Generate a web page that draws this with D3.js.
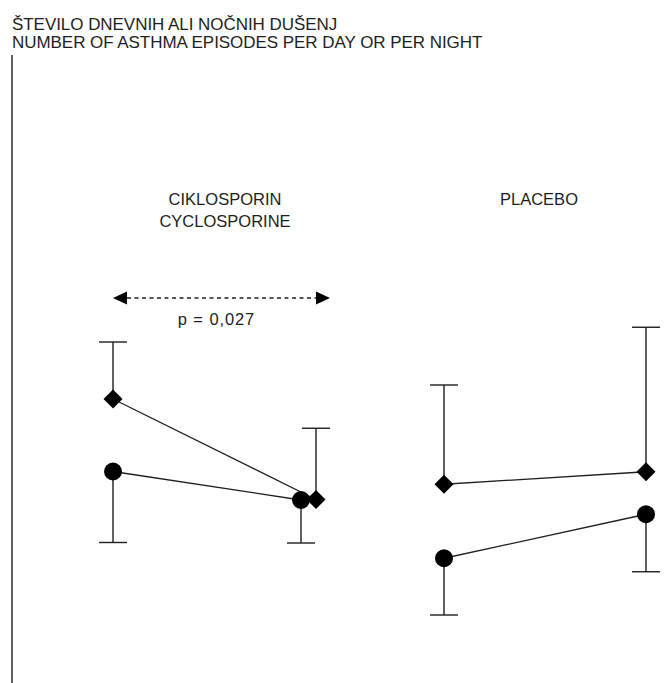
<!DOCTYPE html>
<html>
<head>
<meta charset="utf-8">
<script src="https://cdn.jsdelivr.net/npm/d3@7"></script>
<style>
  html, body { margin: 0; padding: 0; background: #fff; }
  svg { display: block; font-family: "Liberation Sans", Arial, Helvetica, sans-serif; }
</style>
</head>
<body>
<svg id="chart" width="665" height="683"></svg>
<script>
// Mean number of asthma episodes per day or night, before and after treatment
const groups = ["CIKLOSPORIN", "PLACEBO"];
const groupLabels = [["CIKLOSPORIN", "CYCLOSPORINE"], ["PLACEBO"]];
const times = ["before", "after"];

// diamond series: mean and upper error limit
const diamondMean = { CIKLOSPORIN: [1.124, 0.722], PLACEBO: [0.783, 0.833] };
const diamondUpper = { CIKLOSPORIN: [1.352, 1.007], PLACEBO: [1.180, 1.411] };
// circle series: mean and lower error limit
const circleMean = { CIKLOSPORIN: [0.834, 0.720], PLACEBO: [0.487, 0.663] };
const circleLower = { CIKLOSPORIN: [0.550, 0.548], PLACEBO: [0.260, 0.433] };

const titleLines = ["ŠTEVILO DNEVNIH ALI NOČNIH DUŠENJ", "NUMBER OF ASTHMA EPISODES PER DAY OR PER NIGHT"];
const pLabel = "p = 0,027";

const ink = "#1e1e1e";
const svg = d3.select("#chart");

// value axis (unlabelled)
const y = d3.scaleLinear().domain([0, 2.5]).range([680, 55]);

// horizontal layout of each treatment group
const groupRange = { CIKLOSPORIN: [113, 301], PLACEBO: [444, 646] };
const xIn = g => d3.scalePoint().domain(times).range(groupRange[g]);
const labelCenter = { CIKLOSPORIN: 225, PLACEBO: 539 };
// the after-treatment diamond in the ciklosporin group is nudged right so it does not hide the circle
const diamondNudge = { CIKLOSPORIN: [0, 15], PLACEBO: [0, 0] };

// title
svg.append("g").selectAll("text").data(titleLines).join("text")
  .attr("x", 12).attr("y", (d, i) => 30 + i * 17.7)
  .attr("font-size", 17).attr("fill", ink)
  .attr("letter-spacing", -0.05)
  .text(d => d);

// y axis line without ticks
const axis = d3.axisLeft(y).ticks(0).tickSize(0).tickSizeOuter(0);
const axG = svg.append("g").attr("transform", "translate(12,0)").call(axis);
axG.select(".domain").attr("stroke", ink).attr("stroke-width", 1.4).attr("d", `M0,${y(2.5)}V683`);

const lineGen = d3.line();
const capHalf = 14;

groups.forEach((g, gi) => {
  const x = xIn(g);
  const G = svg.append("g");

  // group header
  G.selectAll("text.hdr").data(groupLabels[gi]).join("text")
    .attr("class", "hdr")
    .attr("x", labelCenter[g]).attr("y", (d, i) => 205 + i * 21.5)
    .attr("text-anchor", "middle").attr("font-size", 16.5).attr("fill", ink)
    .text(d => d);

  const dPts = times.map((t, i) => [x(t) + diamondNudge[g][i], y(diamondMean[g][i])]);
  const cPts = times.map((t, i) => [x(t), y(circleMean[g][i])]);

  // error bars: diamonds upward, circles downward
  times.forEach((t, i) => {
    const dx = dPts[i][0];
    const yu = y(diamondUpper[g][i]);
    G.append("line").attr("x1", dx).attr("x2", dx).attr("y1", dPts[i][1]).attr("y2", yu)
      .attr("stroke", ink).attr("stroke-width", 1.4);
    G.append("line").attr("x1", dx - capHalf).attr("x2", dx + capHalf).attr("y1", yu).attr("y2", yu)
      .attr("stroke", ink).attr("stroke-width", 1.4);
    const cx = cPts[i][0];
    const yl = y(circleLower[g][i]);
    G.append("line").attr("x1", cx).attr("x2", cx).attr("y1", cPts[i][1]).attr("y2", yl)
      .attr("stroke", ink).attr("stroke-width", 1.4);
    G.append("line").attr("x1", cx - capHalf).attr("x2", cx + capHalf).attr("y1", yl).attr("y2", yl)
      .attr("stroke", ink).attr("stroke-width", 1.4);
  });

  // connecting lines
  G.append("path").attr("d", lineGen(dPts)).attr("fill", "none").attr("stroke", ink).attr("stroke-width", 1.3);
  G.append("path").attr("d", lineGen(cPts)).attr("fill", "none").attr("stroke", ink).attr("stroke-width", 1.3);

  // markers
  G.selectAll("path.dia").data(dPts).join("path").attr("class", "dia")
    .attr("d", d3.symbol(d3.symbolDiamond2, 230))
    .attr("transform", d => `translate(${d[0]},${d[1]})`)
    .attr("fill", "#000");
  G.selectAll("circle.dot").data(cPts).join("circle").attr("class", "dot")
    .attr("cx", d => d[0]).attr("cy", d => d[1]).attr("r", 9)
    .attr("fill", "#000");
});

// significance arrow between ciklosporin before and after
const ax0 = xIn("CIKLOSPORIN")("before");
const ax1 = 330;
const ay = 298;
const headL = 14, headH = 6.5;
svg.append("line").attr("x1", ax0 + headL).attr("x2", ax1 - headL).attr("y1", ay).attr("y2", ay)
  .attr("stroke", ink).attr("stroke-width", 1.3).attr("stroke-dasharray", "4,3.5");
svg.append("path").attr("d", `M${ax0},${ay}L${ax0 + headL},${ay - headH}L${ax0 + headL},${ay + headH}Z`).attr("fill", "#000");
svg.append("path").attr("d", `M${ax1},${ay}L${ax1 - headL},${ay - headH}L${ax1 - headL},${ay + headH}Z`).attr("fill", "#000");
svg.append("text").attr("x", 216.5).attr("y", 325).attr("text-anchor", "middle")
  .attr("font-size", 16.5).attr("letter-spacing", 0.9).attr("fill", ink).text(pLabel);
</script>
</body>
</html>
